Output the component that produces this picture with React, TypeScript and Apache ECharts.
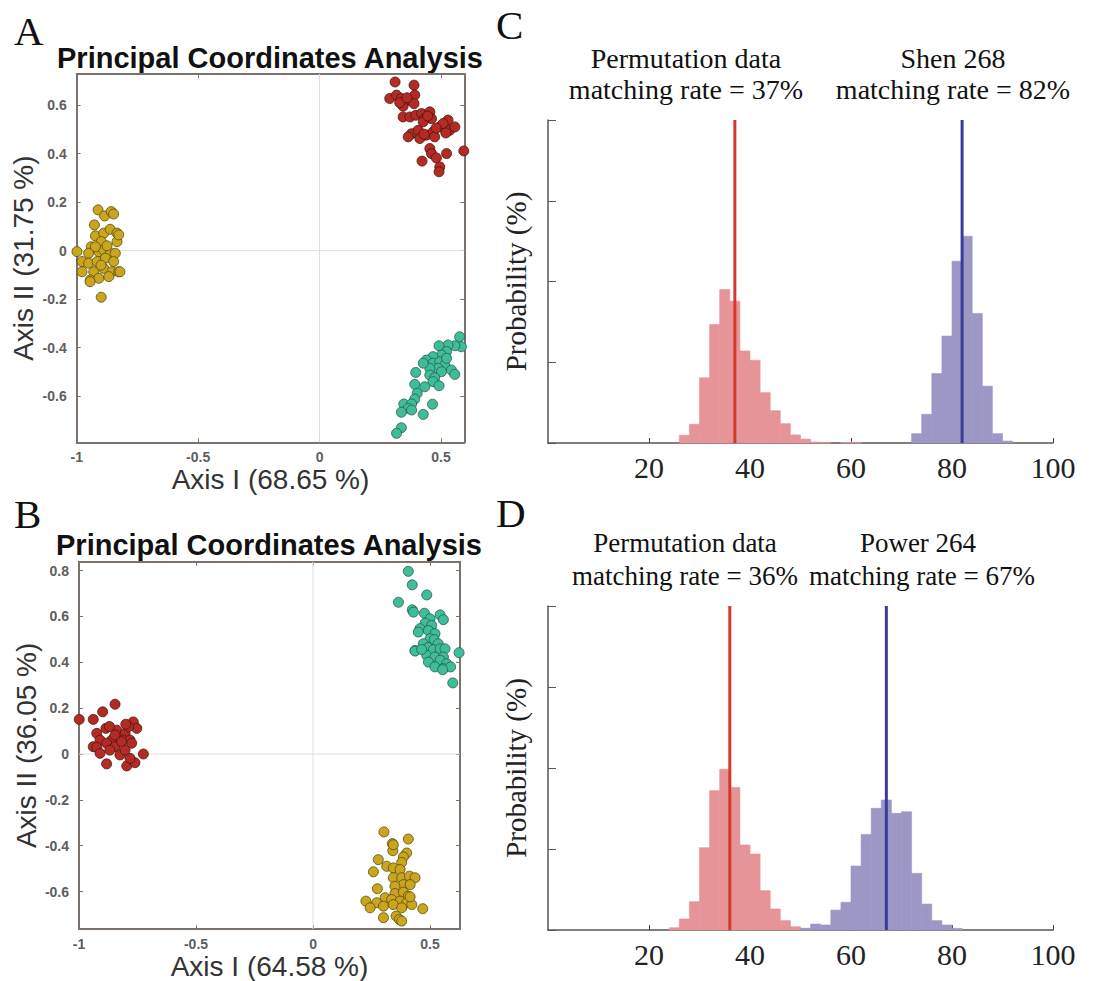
import React, { useEffect, useRef } from "react";
import * as echarts from "echarts";

// ---------- Panel A (PCoA) ----------
const aRed: number[][] = [
  [0.311, 0.695], [0.389, 0.682], [0.289, 0.627], [0.317, 0.641], [0.337, 0.627], [0.351, 0.613],
  [0.392, 0.641], [0.389, 0.606], [0.344, 0.595], [0.344, 0.551], [0.372, 0.551], [0.396, 0.558],
  [0.42, 0.565], [0.433, 0.544], [0.454, 0.572], [0.461, 0.544], [0.529, 0.538], [0.379, 0.482],
  [0.406, 0.496], [0.413, 0.462], [0.44, 0.476], [0.467, 0.489], [0.474, 0.469], [0.495, 0.51],
  [0.509, 0.524], [0.536, 0.496], [0.557, 0.51], [0.454, 0.421], [0.461, 0.4], [0.481, 0.382],
  [0.523, 0.4], [0.422, 0.369], [0.495, 0.345], [0.492, 0.325], [0.594, 0.411], [0.365, 0.469],
  [0.427, 0.531], [0.33, 0.61], [0.36, 0.63], [0.445, 0.555], [0.48, 0.505], [0.43, 0.48], [0.52, 0.485],
];
const aYellow: number[][] = [
  [-0.912, 0.168], [-0.885, 0.143], [-0.858, 0.161], [-0.848, 0.151], [-0.927, 0.106], [-0.923, 0.061],
  [-0.889, 0.072], [-0.862, 0.088], [-0.834, 0.072], [-0.899, 0.037], [-0.94, 0.016], [-0.999, -0.004],
  [-0.951, -0.011], [-0.909, -0.004], [-0.889, 0.003], [-0.862, -0.011], [-0.841, -0.011], [-0.978, -0.045],
  [-0.951, -0.052], [-0.916, -0.045], [-0.882, -0.031], [-0.848, -0.045], [-0.978, -0.087], [-0.93, -0.087],
  [-0.889, -0.073], [-0.855, -0.087], [-0.827, -0.087], [-0.944, -0.121], [-0.909, -0.114], [-0.868, -0.107],
  [-0.899, -0.192], [-0.923, 0.016], [-0.834, 0.037], [-0.827, 0.065], [-0.822, -0.087], [-0.945, -0.128],
  [-0.875, 0.02], [-0.9, -0.06],
];
const aTeal: number[][] = [
  [0.577, -0.355], [0.584, -0.396], [0.557, -0.392], [0.529, -0.389], [0.492, -0.392], [0.523, -0.416],
  [0.502, -0.43], [0.467, -0.437], [0.44, -0.451], [0.467, -0.464], [0.495, -0.458], [0.516, -0.471],
  [0.488, -0.485], [0.454, -0.485], [0.543, -0.492], [0.557, -0.51], [0.502, -0.499], [0.396, -0.502],
  [0.454, -0.513], [0.474, -0.524], [0.467, -0.54], [0.392, -0.551], [0.433, -0.561], [0.492, -0.557],
  [0.402, -0.588], [0.392, -0.612], [0.347, -0.632], [0.379, -0.632], [0.365, -0.65], [0.337, -0.666],
  [0.379, -0.657], [0.465, -0.633], [0.427, -0.675], [0.337, -0.73], [0.317, -0.753], [0.427, -0.464],
  [0.523, -0.444],
];

// ---------- Panel B (PCoA) ----------
const bTeal: number[][] = [
  [0.407, 0.797], [0.424, 0.738], [0.486, 0.694], [0.365, 0.662], [0.424, 0.629], [0.429, 0.619],
  [0.476, 0.614], [0.5, 0.59], [0.543, 0.607], [0.557, 0.586], [0.479, 0.571], [0.507, 0.561],
  [0.457, 0.547], [0.45, 0.532], [0.493, 0.539], [0.521, 0.525], [0.5, 0.503], [0.518, 0.499],
  [0.535, 0.481], [0.471, 0.481], [0.436, 0.452], [0.493, 0.464], [0.514, 0.455], [0.543, 0.459],
  [0.564, 0.459], [0.624, 0.442], [0.486, 0.43], [0.521, 0.423], [0.557, 0.423], [0.493, 0.401],
  [0.543, 0.409], [0.571, 0.394], [0.521, 0.38], [0.557, 0.373], [0.588, 0.38], [0.597, 0.31],
  [0.554, 0.368], [0.436, 0.449], [0.464, 0.456],
];
const bRed: number[][] = [
  [-0.999, 0.151], [-0.939, 0.151], [-0.899, 0.184], [-0.846, 0.217], [-0.924, 0.09], [-0.885, 0.112],
  [-0.839, 0.104], [-0.803, 0.09], [-0.768, 0.14], [-0.753, 0.112], [-0.789, 0.119], [-0.91, 0.061],
  [-0.86, 0.061], [-0.846, 0.083], [-0.811, 0.061], [-0.782, 0.061], [-0.939, 0.032], [-0.924, 0.029],
  [-0.882, 0.047], [-0.846, 0.032], [-0.818, 0.054], [-0.775, 0.047], [-0.725, 0.0], [-0.825, -0.004],
  [-0.882, -0.043], [-0.796, -0.052], [-0.761, -0.038], [-0.782, -0.019], [-0.91, 0.003], [-0.868, 0.017],
  [-0.803, 0.017], [-0.87, 0.12], [-0.8, 0.13],
];
const bYellow: number[][] = [
  [0.303, -0.34], [0.407, -0.371], [0.339, -0.391], [0.341, -0.422], [0.4, -0.432], [0.386, -0.449],
  [0.279, -0.461], [0.315, -0.49], [0.343, -0.497], [0.379, -0.473], [0.372, -0.504], [0.258, -0.514],
  [0.343, -0.54], [0.379, -0.54], [0.412, -0.533], [0.436, -0.54], [0.386, -0.57], [0.35, -0.577],
  [0.415, -0.57], [0.275, -0.588], [0.35, -0.609], [0.386, -0.603], [0.407, -0.62], [0.308, -0.627],
  [0.336, -0.635], [0.372, -0.642], [0.4, -0.649], [0.226, -0.642], [0.272, -0.649], [0.301, -0.664],
  [0.343, -0.657], [0.379, -0.671], [0.422, -0.657], [0.469, -0.675], [0.244, -0.671], [0.301, -0.714],
  [0.355, -0.707], [0.369, -0.722], [0.379, -0.729], [0.415, -0.623], [0.343, -0.396],
];

// ---------- Histograms ----------
const binWidth = 2;
const cRedEdges = [26, 28, 30, 32, 34, 36, 38, 40, 42, 44, 46, 48, 50, 52, 54, 58, 60];
const cRedValues = [0.48, 1.16, 4.04, 7.34, 9.5, 8.78, 5.7, 5.12, 3.12, 2.0, 1.2, 0.5, 0.24, 0.06, 0.04, 0.04, 0.04];
const cBlueEdges = [72, 74, 76, 78, 80, 82, 84, 86, 88, 90];
const cBlueValues = [0.58, 1.78, 4.3, 6.62, 11.26, 12.8, 8.02, 3.52, 0.58, 0.12];
const dRedEdges = [24, 26, 28, 30, 32, 34, 36, 38, 40, 42, 44, 46, 48, 50];
const dRedValues = [0.14, 0.68, 1.75, 5.08, 8.6, 9.92, 8.8, 5.25, 4.69, 2.43, 1.3, 0.58, 0.2, 0.1];
const dBlueEdges = [50, 52, 54, 56, 58, 60, 62, 64, 66, 68, 70, 72, 74, 76, 78, 80];
const dBlueValues = [0.1, 0.37, 0.31, 1.23, 1.71, 3.95, 5.9, 7.51, 8.02, 7.2, 7.3, 3.5, 1.6, 0.58, 0.31, 0.1];
const cRates = [37, 82];
const dRates = [36, 67];

const pcoaXTicks = [-1, -0.5, 0, 0.5];
const aYTicks = [-0.6, -0.4, -0.2, 0, 0.2, 0.4, 0.6];
const bYTicks = [-0.6, -0.4, -0.2, 0, 0.2, 0.4, 0.6, 0.8];
const histXTicks = [20, 40, 60, 80, 100];

const aRange = { xMin: -1, xMax: 0.596, yMin: -0.79, yMax: 0.728 };
const bRange = { xMin: -1, xMax: 0.628, yMin: -0.764, yMax: 0.839 };

const SANS = "Liberation Sans";
const SERIF = "Liberation Serif";
const frameColor = "#7b726c";

const RED = { fill: "#b42b25", stroke: "#4a140f" };
const YELLOW = { fill: "#c9a61d", stroke: "#5a4a0c" };
const TEAL = { fill: "#3dbd99", stroke: "#2b5c4c" };

function pcoaXAxis(gridIndex: number, r: any, name: string, top: boolean) {
  return {
    type: "value",
    gridIndex,
    position: top ? "top" : "bottom",
    min: r.xMin,
    max: r.xMax,
    name: top ? "" : name,
    nameLocation: "middle",
    nameGap: 13,
    nameTextStyle: { fontFamily: SANS, fontSize: 28, color: "#333", verticalAlign: "top" },
    axisLine: { show: true, onZero: false, lineStyle: { color: frameColor, width: 2 } },
    axisTick: { show: true, inside: true, length: 4, customValues: pcoaXTicks, lineStyle: { color: frameColor } },
    axisLabel: {
      show: !top,
      customValues: pcoaXTicks,
      fontFamily: SANS,
      fontSize: 14,
      fontWeight: "bold",
      color: "#5e5e5e",
      margin: 8,
    },
    splitLine: { show: false },
  };
}
function pcoaYAxis(gridIndex: number, r: any, ticks: number[], name: string, right: boolean) {
  return {
    type: "value",
    gridIndex,
    position: right ? "right" : "left",
    min: r.yMin,
    max: r.yMax,
    name: right ? "" : name,
    nameLocation: "middle",
    nameGap: 39,
    nameTextStyle: { fontFamily: SANS, fontSize: 28, color: "#333" },
    axisLine: { show: true, onZero: false, lineStyle: { color: frameColor, width: 2 } },
    axisTick: { show: true, inside: true, length: 4, customValues: ticks, lineStyle: { color: frameColor } },
    axisLabel: {
      show: !right,
      customValues: ticks,
      fontFamily: SANS,
      fontSize: 14,
      fontWeight: "bold",
      color: "#5e5e5e",
      margin: 10,
    },
    splitLine: { show: false },
  };
}
function histXAxis(gridIndex: number) {
  return {
    type: "value",
    gridIndex,
    min: 0,
    max: 100,
    interval: 20,
    axisLine: { show: true, onZero: false, lineStyle: { color: "#555", width: 1.5 } },
    axisTick: { show: true, inside: true, length: 5, customValues: histXTicks, lineStyle: { color: "#444" } },
    axisLabel: {
      customValues: histXTicks,
      fontFamily: SERIF,
      fontSize: 30,
      color: "#222",
      margin: 9,
    },
    splitLine: { show: false },
  };
}
function histYAxis(gridIndex: number) {
  return {
    type: "value",
    gridIndex,
    min: 0,
    max: 20,
    interval: 5,
    name: "Probability (%)",
    nameLocation: "middle",
    nameGap: 18,
    nameTextStyle: { fontFamily: SERIF, fontSize: 29, color: "#222" },
    axisLine: { show: true, lineStyle: { color: "#555", width: 1.5 } },
    axisTick: { show: true, inside: true, length: 8, lineStyle: { color: "#555" } },
    axisLabel: { show: false },
    splitLine: { show: false },
  };
}

function scatter(data: number[][], col: any, xi: number, yi: number) {
  return {
    type: "scatter",
    xAxisIndex: xi,
    yAxisIndex: yi,
    data,
    symbol: "circle",
    symbolSize: 10,
    z: 3,
    itemStyle: { color: col.fill, borderColor: col.stroke, borderWidth: 0.8, opacity: 1 },
  };
}
function zeroLines(r: any, xi: number, yi: number) {
  const style = { color: "#dedede", width: 1 };
  return [
    { type: "line", xAxisIndex: xi, yAxisIndex: yi, data: [[0, r.yMin], [0, r.yMax]], showSymbol: false, symbol: "none", lineStyle: style, z: 1, silent: true },
    { type: "line", xAxisIndex: xi, yAxisIndex: yi, data: [[r.xMin, 0], [r.xMax, 0]], showSymbol: false, symbol: "none", lineStyle: style, z: 1, silent: true },
  ];
}
function hist(edges: number[], values: number[], fill: string, idx: number) {
  return {
    type: "custom",
    xAxisIndex: idx,
    yAxisIndex: idx,
    data: edges.map((e, i) => [e, values[i]]),
    encode: { x: 0, y: 1 },
    z: 2,
    renderItem: (params: any, api: any) => {
      const x0 = api.value(0);
      const h = api.value(1);
      const p0 = api.coord([x0, 0]);
      const p1 = api.coord([x0 + binWidth, h]);
      return {
        type: "rect",
        shape: { x: p0[0], y: p1[1], width: p1[0] - p0[0], height: p0[1] - p1[1] },
        style: { fill, stroke: fill, lineWidth: 0.6 },
      };
    },
  };
}
function vline(v: number, color: string, idx: number) {
  return {
    type: "line",
    xAxisIndex: idx,
    yAxisIndex: idx,
    data: [[v, 0], [v, 20]],
    showSymbol: false,
    symbol: "none",
    lineStyle: { color, width: 3 },
    z: 4,
  };
}

function txt(text: string, x: number, y: number, size: number, family: string, weight = "normal", align = "center") {
  return {
    type: "text",
    x,
    y,
    style: { text, fontSize: size, fontFamily: family, fontWeight: weight, fill: "#111", align, verticalAlign: "middle" },
  };
}

export default function App() {
  const ref = useRef<HTMLDivElement>(null);
  useEffect(() => {
    const chart = echarts.init(ref.current!, null, { renderer: "svg" });
    chart.setOption({
      animation: false,
      backgroundColor: "#fff",
      grid: [
        { left: 76.7, top: 74, width: 387.6, height: 368.3 },
        { left: 79, top: 561.7, width: 381, height: 368.3 },
        { left: 548, top: 120, width: 505, height: 323 },
        { left: 548, top: 606, width: 505, height: 324 },
      ],
      xAxis: [
        pcoaXAxis(0, aRange, "Axis I (68.65 %)", false),
        pcoaXAxis(0, aRange, "", true),
        pcoaXAxis(1, bRange, "Axis I (64.58 %)", false),
        pcoaXAxis(1, bRange, "", true),
        histXAxis(2),
        histXAxis(3),
      ],
      yAxis: [
        pcoaYAxis(0, aRange, aYTicks, "Axis II (31.75 %)", false),
        pcoaYAxis(0, aRange, aYTicks, "", true),
        pcoaYAxis(1, bRange, bYTicks, "Axis II (36.05 %)", false),
        pcoaYAxis(1, bRange, bYTicks, "", true),
        histYAxis(2),
        histYAxis(3),
      ],
      series: [
        ...zeroLines(aRange, 0, 0),
        scatter(aRed, RED, 0, 0),
        scatter(aYellow, YELLOW, 0, 0),
        scatter(aTeal, TEAL, 0, 0),
        ...zeroLines(bRange, 2, 2),
        scatter(bTeal, TEAL, 2, 2),
        scatter(bRed, RED, 2, 2),
        scatter(bYellow, YELLOW, 2, 2),
        hist(cRedEdges, cRedValues, "#e69497", 4),
        hist(cBlueEdges, cBlueValues, "#9c97c5", 4),
        vline(cRates[0], "#d4392c", 4),
        vline(cRates[1], "#3b3b9b", 4),
        hist(dRedEdges, dRedValues, "#e69497", 5),
        hist(dBlueEdges, dBlueValues, "#9c97c5", 5),
        vline(dRates[0], "#d4392c", 5),
        vline(dRates[1], "#3b3b9b", 5),
      ],
      graphic: [
        txt("A", 14, 31, 41, SERIF, "normal", "left"),
        txt("B", 14, 514, 41, SERIF, "normal", "left"),
        txt("C", 496, 25, 41, SERIF, "normal", "left"),
        txt("D", 496, 513, 41, SERIF, "normal", "left"),
        txt("Principal Coordinates Analysis", 270, 58, 29, SANS, "bold"),
        txt("Principal Coordinates Analysis", 269, 545, 29, SANS, "bold"),
        txt("Permutation data", 686, 58, 28, SERIF),
        txt("matching rate = " + cRates[0] + "%", 686, 89, 28, SERIF),
        txt("Shen 268", 953, 58, 28, SERIF),
        txt("matching rate = " + cRates[1] + "%", 953, 89, 28, SERIF),
        txt("Permutation data", 685, 543, 27, SERIF),
        txt("matching rate = " + dRates[0] + "%", 685, 576, 27, SERIF),
        txt("Power 264", 918, 543, 27, SERIF),
        txt("matching rate = " + dRates[1] + "%", 922, 576, 27, SERIF),
      ],
    });
    return () => chart.dispose();
  }, []);
  return (
    <div
      ref={ref}
      style={{ position: "absolute", left: 0, top: 0, width: 1101, height: 981, background: "#fff" }}
    />
  );
}
